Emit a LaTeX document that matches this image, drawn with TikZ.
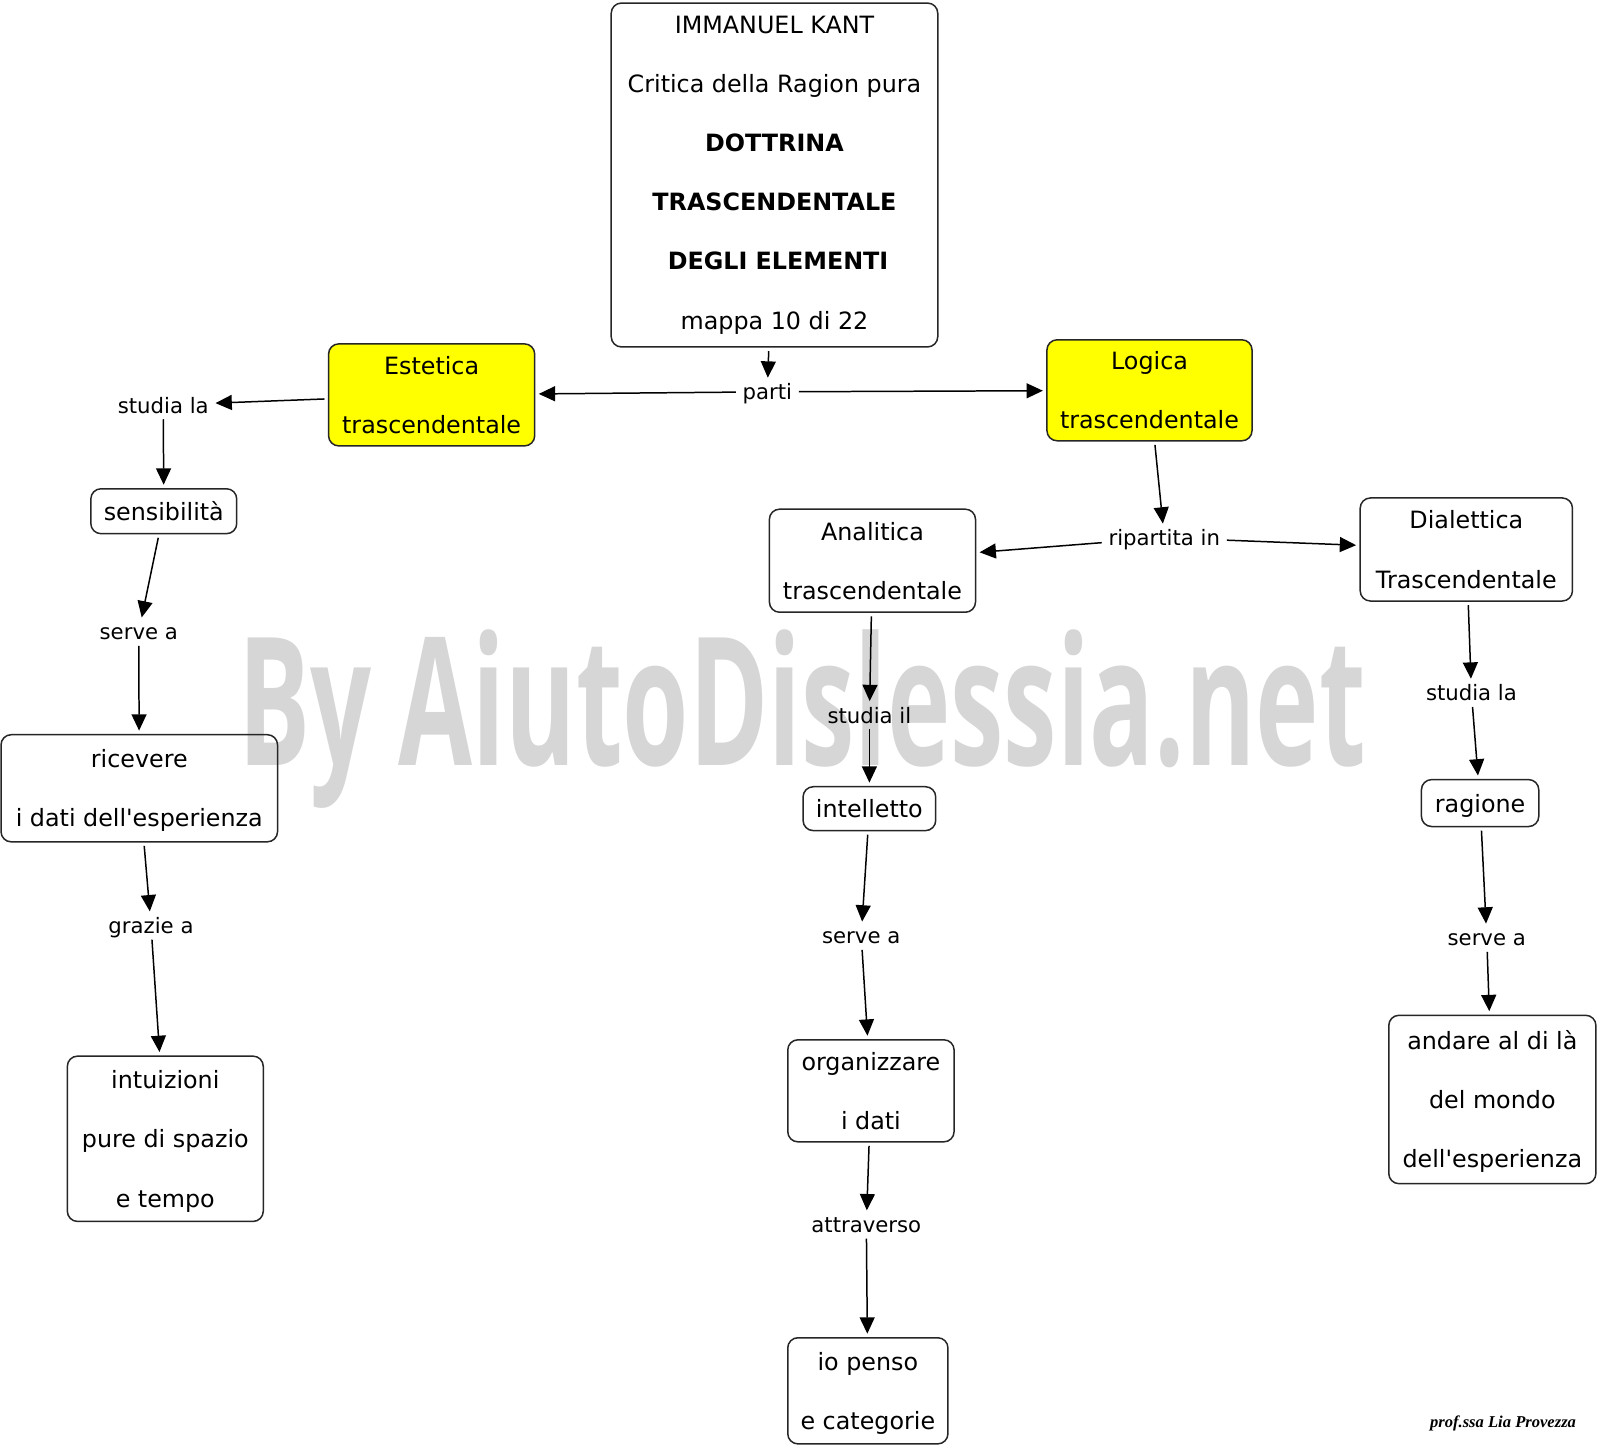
\documentclass[tikz,border=0pt]{standalone}
\usepackage{fontspec}
\setmainfont{DejaVu Sans}
\newfontfamily\wmfont{Open Sans}
\newfontfamily\sigfont{Liberation Serif}
\usetikzlibrary{arrows.meta}
\newdimen\pxu \pxu=0.75pt
\definecolor{wmgray}{RGB}{214,214,214}
\definecolor{cyel}{RGB}{255,255,0}
\newcommand\sx{\rule[-0.24em]{0pt}{1em}}
\newcommand\sy{\rule[-0.24em]{0pt}{1.24em}}
\newcommand\apo{\XeTeXglyph\XeTeXcharglyph"27\relax}
\newcommand\cfont{\fontsize{17.5}{43.5}\selectfont}
\newcommand\lfont{\fontsize{15.6}{19}\selectfont}
\tikzset{
  concept/.style={draw=black!85, line width=1.1pt, rounded corners=7.5pt, align=center,
                  font=\cfont, inner sep=0pt, outer sep=3pt},
  csize/.style 2 args={minimum width=#1\pxu, minimum height=#2\pxu},
  yel/.style={fill=cyel},
  lbl/.style={font=\lfont, inner xsep=5pt, inner ysep=4.5pt, text height=11.8pt,
              text depth=0pt, outer sep=0pt},
  conn/.style={-{Triangle[length=12pt,width=11pt]}, line width=1.1pt},
}
\begin{document}
\begin{tikzpicture}[x=0.75pt, y=-0.75pt]
\fill[white] (0,0) rectangle (1568,1419);
\useasboundingbox (0,0) rectangle (1568,1419);

% watermark
\node[anchor=base west, inner sep=0pt, text=wmgray] (wm) at (233,750)
  {\resizebox{1105\pxu}{133\pxu}{\wmfont\bfseries By AiutoDislessia.net}};

% concepts
\node[concept, csize={320}{337}] (kant) at (759,171.5)
  {\sx IMMANUEL KANT\\ Critica della Ragion pura\\ \textbf{DOTTRINA}\\ \textbf{TRASCENDENTALE}\\
   \hspace*{7\pxu}\textbf{DEGLI ELEMENTI}\\ mappa 10 di 22\sx};
\node[concept, yel, csize={202}{100}] (est) at (423,387) {\sy Estetica\\ trascendentale\sx};
\node[concept, yel, csize={201}{99}] (log) at (1126.5,382.5) {\sy Logica\\ trascendentale\sx};
\node[concept, csize={143}{44}] (sens) at (160.5,501) {\sy sensibilità\sx};
\node[concept, csize={271}{105}] (ric) at (136.5,772.5) {\sy ricevere\\ i dati dell\apo esperienza\sx};
\node[concept, csize={192}{162}] (intu) at (162,1116) {\sy intuizioni\\ pure di spazio\\ e tempo\sx};
\node[concept, csize={202}{101}] (ana) at (855,549.5) {\sy Analitica\\ trascendentale\sx};
\node[concept, csize={208}{101}] (dia) at (1437,538.5) {\sy Dialettica\\ Trascendentale\sx};
\node[concept, csize={130}{43}] (intel) at (852,792.5) {\sy intelletto\sx};
\node[concept, csize={163}{100}] (org) at (853.5,1069) {\sy organizzare\\ i dati\sx};
\node[concept, csize={157}{104}] (io) at (850.5,1363) {\sy io penso\\ e categorie\sx};
\node[concept, csize={115}{46}] (rag) at (1450.5,787) {\sy ragione\sx};
\node[concept, csize={203}{165}] (and) at (1462.5,1077.5) {\sy andare al di là\\ del mondo\\ dell\apo esperienza\sx};

% linking phrases
\node[lbl] (parti) at (752,384) {parti};
\node[lbl] (sl1) at (160,397) {studia la};
\node[lbl] (sa1) at (136,619) {serve a};
\node[lbl] (gr) at (148,907) {grazie a};
\node[lbl] (rip) at (1141,527) {ripartita in};
\node[lbl] (si) at (852,701) {studia il};
\node[lbl] (sa2) at (844,917) {serve a};
\node[lbl] (attr) at (849,1200) {attraverso};
\node[lbl] (sl2) at (1442,679) {studia la};
\node[lbl] (sa3) at (1457,919) {serve a};

% connectors
\draw[conn] (kant) -- (parti);
\draw[conn] (parti) -- (est);
\draw[conn] (parti) -- (log);
\draw[conn] (est) -- (sl1);
\draw[conn] (sl1) -- (sens);
\draw[conn] (sens) -- (sa1);
\draw[conn] (sa1) -- (ric);
\draw[conn] (ric) -- (gr);
\draw[conn] (gr) -- (intu);
\draw[conn] (log) -- (rip);
\draw[conn] (rip) -- (ana);
\draw[conn] (rip) -- (dia);
\draw[conn] (ana) -- (si);
\draw[conn] (si) -- (intel);
\draw[conn] (intel) -- (sa2);
\draw[conn] (sa2) -- (org);
\draw[conn] (org) -- (attr);
\draw[conn] (attr) -- (io);
\draw[conn] (dia) -- (sl2);
\draw[conn] (sl2) -- (rag);
\draw[conn] (rag) -- (sa3);
\draw[conn] (sa3) -- (and);

% signature
\node[inner sep=0pt] (sig) at (1473,1395)
  {\resizebox{143\pxu}{!}{\sigfont\bfseries\itshape prof.ssa Lia Provezza}};
\end{tikzpicture}
\end{document}
